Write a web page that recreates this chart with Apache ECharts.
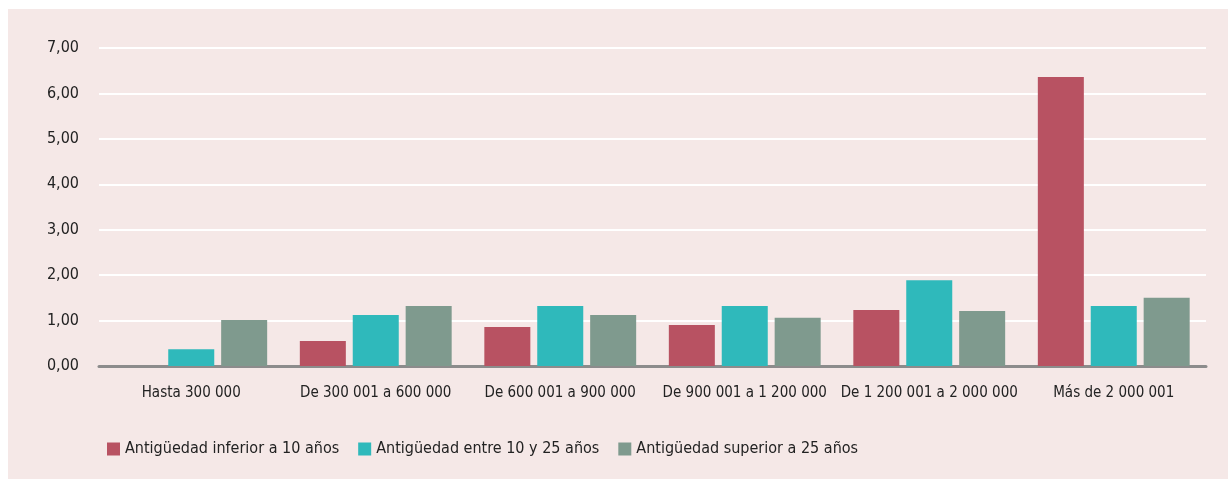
<!DOCTYPE html>
<html>
<head>
<meta charset="utf-8">
<script src="https://cdn.jsdelivr.net/npm/echarts@6/dist/echarts.min.js"></script>
<style>
  html, body { margin: 0; padding: 0; background: #ffffff; }
  #chart { position: absolute; left: 8px; top: 9px; width: 1220px; height: 470px; background: #f5e8e7; }
</style>
</head>
<body>
<div id="chart"></div>
<script>
// Income brackets (category axis)
const categories = [
  'Hasta 300 000',
  'De 300 001 a 600 000',
  'De 600 001 a 900 000',
  'De 900 001 a 1 200 000',
  'De 1 200 001 a 2 000 000',
  'Más de 2 000 001'
];

// Series values by seniority
const antiguedadInferior10 = [null, 0.55, 0.86, 0.90, 1.23, 6.36];
const antiguedadEntre10y25 = [0.37, 1.12, 1.32, 1.32, 1.89, 1.32];
const antiguedadSuperior25 = [1.01, 1.32, 1.12, 1.06, 1.21, 1.50];

const seriesNames = [
  'Antigüedad inferior a 10 años',
  'Antigüedad entre 10 y 25 años',
  'Antigüedad superior a 25 años'
];

const fontFamily = '"DejaVu Sans Condensed", "Liberation Sans Narrow", "Roboto", sans-serif';

const chart = echarts.init(document.getElementById('chart'), null, { renderer: 'canvas' });

chart.setOption({
  backgroundColor: 'transparent',
  color: ['#b85262', '#2fb9bb', '#7f9a8e'],
  textStyle: { fontFamily: fontFamily, color: '#222222' },
  grid: { left: 91, right: 22, top: 39, bottom: 113 },
  legend: {
    left: 94,
    top: 427,
    itemWidth: 13,
    itemHeight: 13,
    itemGap: 19,
    icon: 'rect',
    textStyle: { fontFamily: fontFamily, fontSize: 16, color: '#222222' },
    data: seriesNames
  },
  xAxis: {
    type: 'category',
    data: categories,
    axisLine: { lineStyle: { color: '#8c8c8c', width: 3 } },
    axisTick: { show: false },
    axisLabel: { interval: 0, fontFamily: fontFamily, fontSize: 15, color: '#222222', margin: 20 }
  },
  yAxis: {
    type: 'value',
    min: 0,
    max: 7,
    interval: 1,
    axisLine: { show: false },
    axisTick: { show: false },
    splitLine: { lineStyle: { color: '#ffffff', width: 2 } },
    axisLabel: {
      fontFamily: fontFamily,
      fontSize: 16,
      color: '#222222',
      margin: 20,
      formatter: v => v.toFixed(2).replace('.', ',')
    }
  },
  series: [
    { name: seriesNames[0], type: 'bar', data: antiguedadInferior10, barGap: '15%', barCategoryGap: '17.7%' },
    { name: seriesNames[1], type: 'bar', data: antiguedadEntre10y25, barGap: '15%', barCategoryGap: '17.7%' },
    { name: seriesNames[2], type: 'bar', data: antiguedadSuperior25, barGap: '15%', barCategoryGap: '17.7%' }
  ]
});
</script>
</body>
</html>
